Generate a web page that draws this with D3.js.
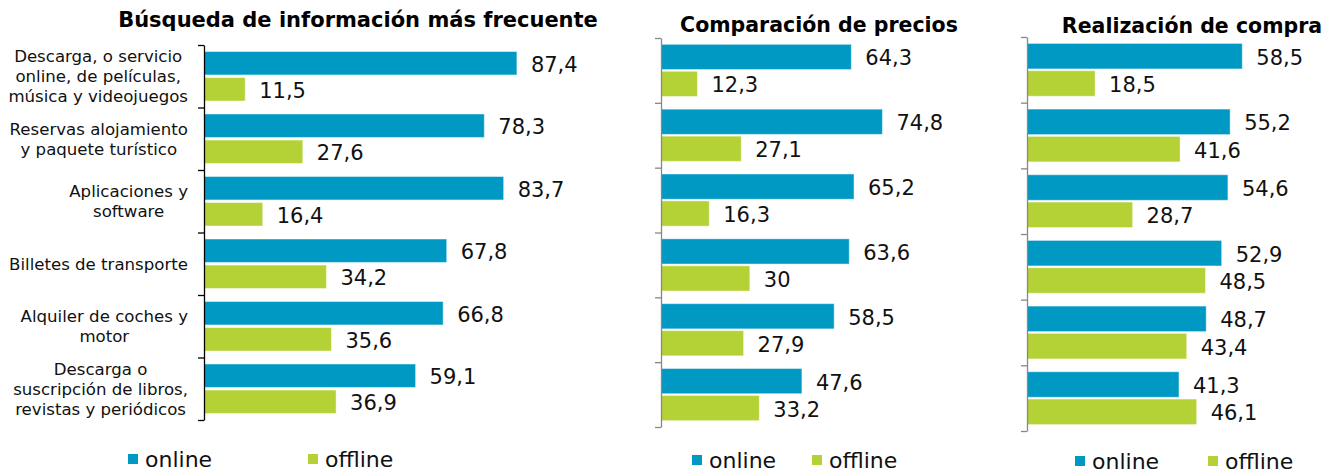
<!DOCTYPE html>
<html>
<head>
<meta charset="utf-8">
<script src="https://cdn.jsdelivr.net/npm/d3@7"></script>
<style>
  body { margin: 0; background: #fff; }
  svg { display: block; font-family: "DejaVu Sans", Verdana, sans-serif; }
</style>
</head>
<body>
<svg id="chart" width="1342" height="475"></svg>
<script>
// categories (only drawn on the first panel)
const categoryLines = [
  ["Descarga, o servicio", "online, de películas,", "música y videojuegos"],
  ["Reservas alojamiento", "y paquete turístico"],
  ["Aplicaciones y", "software"],
  ["Billetes de transporte"],
  ["Alquiler de coches y", "motor"],
  ["Descarga o", "suscripción de libros,", "revistas y periódicos"]
]
const categories = categoryLines.map(l => l.join(" "))
const seriesNames = ["online", "offline"]
const titles = ["Búsqueda de información más frecuente", "Comparación de precios", "Realización de compra"]

const busquedaOnline  = [87.4, 78.3, 83.7, 67.8, 66.8, 59.1]
const busquedaOffline = [11.5, 27.6, 16.4, 34.2, 35.6, 36.9]
const preciosOnline   = [64.3, 74.8, 65.2, 63.6, 58.5, 47.6]
const preciosOffline  = [12.3, 27.1, 16.3, 30, 27.9, 33.2]
const compraOnline    = [58.5, 55.2, 54.6, 52.9, 48.7, 41.3]
const compraOffline   = [18.5, 41.6, 28.7, 48.5, 43.4, 46.1]

const colors = {online: "#0099c4", offline: "#b4d235"}

// layout per panel
const panels = [
  {title: titles[0], online: busquedaOnline, offline: busquedaOffline,
   x0: 204, pxPer100: 358, top: 45, bottom: 420, pi: 0.1, po: 0.25, axisColor: "#000",
   titleX: 358, titleY: 27, titleSize: 21, legendY: 467, legendX: [128, 308], labels: true},
  {title: titles[1], online: preciosOnline, offline: preciosOffline,
   x0: 661, pxPer100: 296, top: 38, bottom: 427, pi: 0.065, po: 0.235, axisColor: "#888",
   titleX: 819, titleY: 32, titleSize: 20.5, legendY: 468, legendX: [692, 812], labels: false},
  {title: titles[2], online: compraOnline, offline: compraOffline,
   x0: 1027, pxPer100: 368, top: 37, bottom: 431, pi: 0.065, po: 0.235, axisColor: "#888",
   titleX: 1192, titleY: 33, titleSize: 20.5, legendY: 469, legendX: [1075, 1208], labels: false}
]

const svg = d3.select("#chart")
const fmt = v => String(v).replace(".", ",")

panels.forEach(p => {
  const g = svg.append("g")

  const x = d3.scaleLinear().domain([0, 100]).range([p.x0, p.x0 + p.pxPer100])
  const y0 = d3.scaleBand().domain(categories).range([p.top, p.bottom])
  const y1 = d3.scaleBand().domain(seriesNames).range([0, y0.bandwidth()])
      .paddingInner(p.pi).paddingOuter(p.po)

  // title
  g.append("text")
    .attr("x", p.titleX)
    .attr("y", p.titleY)
    .attr("text-anchor", "middle")
    .attr("font-size", p.titleSize)
    .attr("font-weight", "bold")
    .attr("fill", "#000")
    .text(p.title)

  // bars + value labels
  const rows = categories.map((c, i) => ({cat: c, online: p.online[i], offline: p.offline[i]}))
  const grp = g.selectAll(".cat")
    .data(rows)
    .enter().append("g")
    .attr("class", "cat")
    .attr("transform", d => `translate(0,${y0(d.cat)})`)

  seriesNames.forEach(s => {
    grp.append("rect")
      .attr("x", x(0))
      .attr("y", y1(s))
      .attr("width", d => x(d[s]) - x(0))
      .attr("height", y1.bandwidth())
      .attr("fill", colors[s])
      .attr("stroke", "rgba(255,255,255,0.45)")
      .attr("stroke-width", 1)

    grp.append("text")
      .attr("x", d => x(d[s]) + 14)
      .attr("y", y1(s) + y1.bandwidth() / 2 + 8.5)
      .attr("font-size", 21)
      .attr("fill", "#111")
      .text(d => fmt(d[s]))
  })

  // vertical axis with ticks on category boundaries
  const yb = d3.scaleLinear().domain([0, categories.length]).range([p.top, p.bottom])
  const ax = g.append("g")
    .attr("transform", `translate(${p.x0},0)`)
    .call(d3.axisLeft(yb).tickValues(d3.range(categories.length + 1))
      .tickFormat("").tickSizeInner(6).tickSizeOuter(0))
  ax.select(".domain").attr("stroke", p.axisColor).attr("stroke-width", 1.3)
  ax.selectAll(".tick line").attr("stroke", p.axisColor).attr("stroke-width", 1.3)

  // category labels, lines centred inside a right-aligned block
  if (p.labels) {
    const rightEdge = 188
    const lh = 19.8
    categoryLines.forEach((lines, i) => {
      const cy = y0(categories[i]) + y0.bandwidth() / 2
      const t = g.append("text")
        .attr("font-size", 16.6)
        .attr("fill", "#111")
        .attr("text-anchor", "middle")
      lines.forEach((ln, j) => {
        t.append("tspan")
          .attr("y", cy + (j - (lines.length - 1) / 2) * lh + 6)
          .text(ln)
      })
      let maxW = 0
      t.selectAll("tspan").each(function() { maxW = Math.max(maxW, this.getComputedTextLength()) })
      t.selectAll("tspan").attr("x", rightEdge - maxW / 2)
    })
  }

  // legend
  const leg = g.selectAll(".leg")
    .data(seriesNames)
    .enter().append("g")
    .attr("class", "leg")
    .attr("transform", (d, i) => `translate(${p.legendX[i]},${p.legendY})`)
  leg.append("rect")
    .attr("x", 0).attr("y", -13)
    .attr("width", 10).attr("height", 10)
    .attr("fill", d => colors[d])
  leg.append("text")
    .attr("x", 17)
    .attr("y", 0)
    .attr("font-size", 22)
    .attr("fill", "#111")
    .text(d => d)
})
</script>
</body>
</html>
